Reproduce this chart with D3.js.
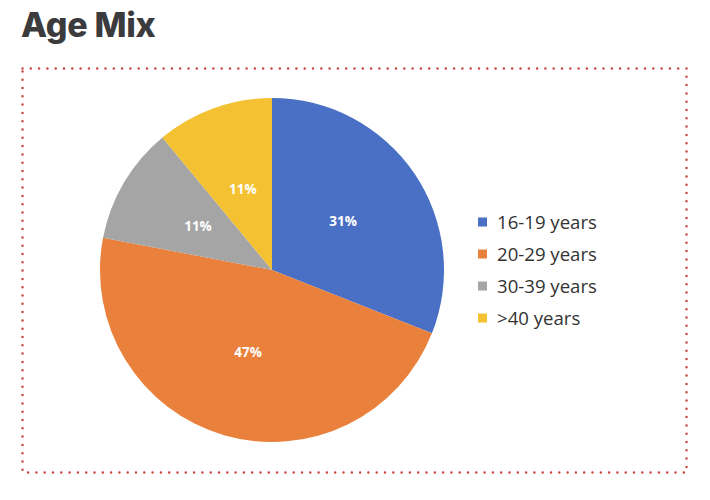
<!DOCTYPE html>
<html><head><meta charset="utf-8">
<script src="https://cdn.jsdelivr.net/npm/d3@7"></script>
<style>body{margin:0;background:#fff;}svg{display:block;}</style>
</head><body>
<svg id="c" width="710" height="500"></svg>
<script>
const categories = ["16-19 years", "20-29 years", "30-39 years", ">40 years"];
const values = [31, 47, 11, 11];
const labels = ["31%", "47%", "11%", "11%"];
const colors = ["#4a70c5", "#e9803c", "#a5a5a5", "#f3c131"];

const svg = d3.select("#c");
svg.append("text").attr("x", 21).attr("y", 37)
  .attr("font-family", "Inter, 'DejaVu Sans', sans-serif").attr("font-weight", 800)
  .attr("font-size", 34).attr("fill", "#3b3b3d").attr("letter-spacing", -0.3).text("Age Mix");

svg.append("rect").attr("x", 22.5).attr("y", 68.5).attr("width", 664).attr("height", 404)
  .attr("fill", "none").attr("stroke", "#c9473f").attr("stroke-width", 2.5)
  .attr("stroke-dasharray", "0 8.3").attr("stroke-linecap", "round");

const cx = 272, cy = 270, r = 172;
const pie = d3.pie().sort(null).value(d => d)(values);
const arc = d3.arc().innerRadius(0).outerRadius(r);
const labelArc = d3.arc().innerRadius(r * 0.5).outerRadius(r * 0.5);
const g = svg.append("g").attr("transform", `translate(${cx},${cy})`);
g.selectAll("path").data(pie).join("path")
  .attr("d", arc).attr("fill", (d, i) => colors[i]);
g.selectAll("text").data(pie).join("text")
  .attr("transform", d => `translate(${labelArc.centroid(d)})`)
  .attr("text-anchor", "middle").attr("dy", "0.35em")
  .attr("font-family", "'Open Sans', 'DejaVu Sans', sans-serif").attr("font-weight", 700)
  .attr("font-size", 13.5).attr("fill", "#fff").text((d, i) => labels[i]);

const lg = svg.append("g").attr("transform", "translate(478,222)");
const row = lg.selectAll("g").data(categories).join("g")
  .attr("transform", (d, i) => `translate(0,${i * 32})`);
row.append("rect").attr("x", 0).attr("y", -4.5).attr("width", 9).attr("height", 9)
  .attr("fill", (d, i) => colors[i]);
row.append("text").attr("x", 19).attr("dy", "0.35em")
  .attr("font-family", "'Open Sans', 'Noto Sans', sans-serif").attr("font-size", 18.6)
  .attr("fill", "#333").text(d => d);
</script>
</body></html>
